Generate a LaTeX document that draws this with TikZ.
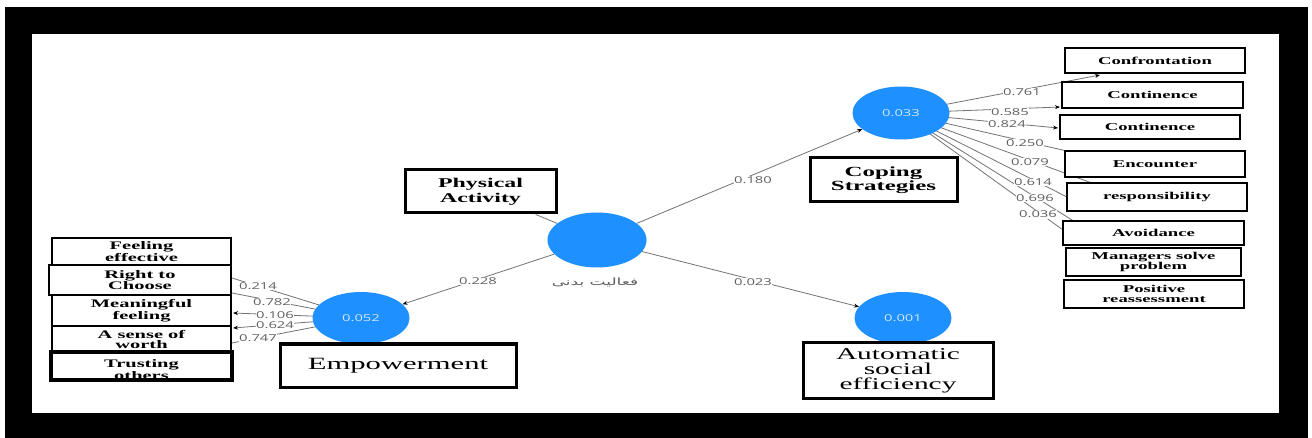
\documentclass[tikz,border=0pt]{standalone}
\usepackage{fontspec}
\usetikzlibrary{shapes.geometric,arrows.meta}
\TeXXeTstate=1
\setmainfont{Liberation Serif}
\newfontfamily\bxf[FakeStretch=1.78]{Liberation Serif}
\newfontfamily\numf[FakeStretch=1.56]{Open Sans}
\newfontfamily\arf[Script=Arabic,FakeStretch=1.7]{DejaVu Sans}
\definecolor{pblue}{RGB}{30,144,255}
\definecolor{lgray}{RGB}{95,95,95}
\definecolor{cgray}{RGB}{115,115,115}
\pgfdeclarelayer{bg}
\pgfsetlayers{bg,main}
\begin{document}
\begin{tikzpicture}[x=1pt,y=-1pt,
  lv/.style={ellipse, fill=pblue, draw=none, inner sep=0pt, minimum width=97pt, minimum height=53pt,
             font=\numf\fontsize{9.5}{10}\selectfont, text=white!80!pblue},
  rind/.style={draw, line width=2.6pt, fill=white, inner sep=0pt, align=center,
             font=\bxf\bfseries\fontsize{10.5}{10}\selectfont},
  lind/.style={draw, line width=2.6pt, fill=white, inner sep=0pt, align=center,
             minimum width=179pt, font=\bxf\bfseries\fontsize{11.5}{10.5}\selectfont},
  cbox/.style={draw, line width=3pt, fill=white, inner sep=0pt, align=center},
  wt/.style={fill=white, inner sep=0.5pt, text=lgray, font=\numf\fontsize{9.5}{10}\selectfont},
  conn/.style={draw=cgray, line width=0.8pt},
  arr/.style={conn, -{Stealth[black,length=5pt,width=4pt]}},
]
\useasboundingbox (0,0) rectangle (1312,438);
\begin{pgfonlayer}{bg}
\fill[white] (0,0) rectangle (1312,438);
\fill[black] (5,7) rectangle (1308,438);
\fill[white] (32,34) rectangle (1279,413);
\end{pgfonlayer}

% latent variables
\node[lv, minimum width=99pt, minimum height=55pt] (pa) at (597,240) {};
\node[lv, minimum height=52pt] (emp) at (361,318) {0.052};
\node[lv] (cop) at (901,113) {0.033};
\node[lv, minimum height=52pt] (aut) at (903,318) {0.001};

% construct boxes
\node[cbox, minimum width=151pt, minimum height=43pt, font=\bxf\bfseries\fontsize{13.4}{15}\selectfont] (pab) at (480.5,191.5) {Physical\\Activity};
\node[cbox, minimum width=236pt, minimum height=43pt, font=\bxf\fontsize{17.2}{18}\selectfont] (empb) at (398,365.5) {Empowerment};
\node[cbox, minimum width=147pt, minimum height=44pt, font=\bxf\bfseries\fontsize{14}{12.5}\selectfont] (copb) at (883.5,180) {Coping\\Strategies};
\node[cbox, minimum width=190pt, minimum height=55pt, font=\bxf\fontsize{16.5}{15}\selectfont] (autb) at (898,370.5) {Automatic\\social\\efficiency};

% left indicators
\node[lind, minimum height=27pt] (fe) at (141.5,251.5) {Feeling\\effective};
\node[lind, minimum height=30pt, minimum width=182pt] (rc) at (140,280) {Right to\\Choose};
\node[lind, minimum height=31pt] (mf) at (141.5,310.5) {Meaningful\\feeling};
\node[lind, minimum height=27pt] (sw) at (141.5,339.5) {A sense of\\worth};
\node[lind, minimum height=26pt] (to) at (141.5,366) {};
\begin{scope}
\clip (53,354) rectangle (230,378);
\node[inner sep=0pt, align=center, font=\bxf\bfseries\fontsize{11.5}{10.5}\selectfont] (tot) at (141.5,369.5) {Trusting\\others};
\end{scope}
\draw[line width=2.6pt] (to.north west) rectangle (to.south east);

% right indicators
\node[rind, minimum width=180pt, minimum height=25pt] (i1) at (1155,60.5) {Confrontation};
\node[rind, minimum width=181pt, minimum height=26pt] (i2) at (1152.5,95) {Continence};
\node[rind, minimum width=180pt, minimum height=24pt] (i3) at (1150,127) {Continence};
\node[rind, minimum width=180pt, minimum height=26pt] (i4) at (1155,164) {Encounter};
\node[rind, minimum width=180pt, minimum height=28pt] (i5) at (1157,197) {responsibility};
\node[rind, minimum width=181pt, minimum height=24pt] (i6) at (1153.5,233) {Avoidance};
\node[rind, minimum width=175pt, minimum height=28pt] (i7) at (1153.5,262) {Managers solve\\problem};
\node[rind, minimum width=180pt, minimum height=28pt] (i8) at (1154,294) {Positive\\reassessment};

% end points
\coordinate (e1) at (232,278);
\coordinate (e2) at (232,293);
\coordinate (e3) at (233,313);
\coordinate (e4) at (233,328);
\coordinate (e5) at (232,343);
\coordinate (r1) at (1100,75);
\coordinate (r2) at (1060,107);
\coordinate (r3) at (1058,128);
\coordinate (r4) at (1080,154);
\coordinate (r5) at (1100,186);
\coordinate (r6) at (1067,197);
\coordinate (r7) at (1080,225);
\coordinate (r8) at (1070,235);

\begin{pgfonlayer}{bg}
\draw[conn] (pab) -- (pa);
\draw[arr] (pa) -- (emp);
\draw[arr] (pa) -- (cop);
\draw[arr] (pa) -- (aut);
\draw[conn] (emp.center) -- (e1);
\draw[conn] (emp.center) -- (e2);
\draw[arr] (emp.center) -- (e3);
\draw[arr] (emp.center) -- (e4);
\draw[conn] (emp.center) -- (e5);
\draw[arr] (cop.center) -- (r1);
\draw[arr] (cop.center) -- (r2);
\draw[arr] (cop.center) -- (r3);
\draw[conn] (cop.center) -- (r4);
\draw[conn] (cop.center) -- (r5);
\draw[conn] (cop.center) -- (r6);
\draw[conn] (cop.center) -- (r7);
\draw[conn] (cop.center) -- (r8);
\end{pgfonlayer}

% path coefficients
\node[wt] (w1) at (478,281) {0.228};
\node[wt] (w2) at (753,180) {0.180};
\node[wt] (w3) at (753,282) {0.023};
\node[text=lgray, inner sep=0pt, font=\arf\fontsize{10}{11}\selectfont] (ar) at (595,282) {\beginR فعالیت بدنی\endR};

% outer loadings left
\node[wt] (l1) at (258,286) {0.214};
\node[wt] (l2) at (272,302) {0.782};
\node[wt] (l3) at (275,315) {0.106};
\node[wt] (l4) at (275,325.5) {0.624};
\node[wt] (l5) at (258,338) {0.747};

% outer loadings right
\node[wt] (o1) at (1022,92) {0.761};
\node[wt] (o2) at (1010,112) {0.585};
\node[wt] (o3) at (1007,124) {0.824};
\node[wt] (o4) at (1025,143) {0.250};
\node[wt] (o5) at (1030,162) {0.079};
\node[wt] (o6) at (1033,182) {0.614};
\node[wt] (o7) at (1035,198) {0.696};
\node[wt] (o8) at (1038,214.5) {0.036};
\end{tikzpicture}
\end{document}
